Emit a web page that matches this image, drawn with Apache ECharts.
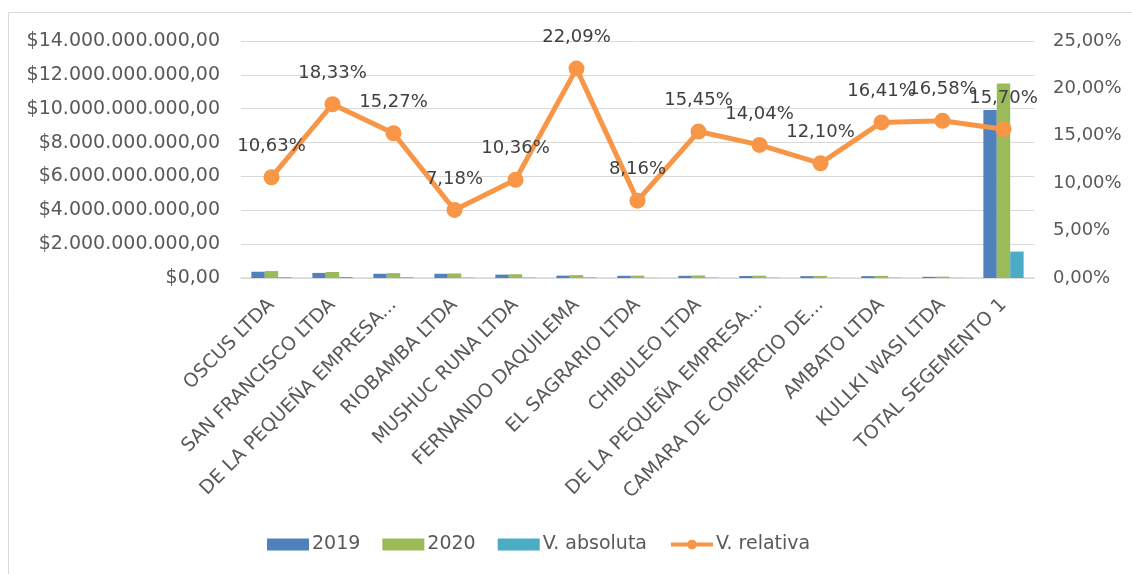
<!DOCTYPE html>
<html>
<head>
<meta charset="utf-8">
<script src="https://cdn.jsdelivr.net/npm/echarts@6/dist/echarts.min.js"></script>
<style>
  html, body { margin: 0; padding: 0; background: #fff; }
  #chart { width: 1132px; height: 574px; }
</style>
</head>
<body>
<div id="chart"></div>
<script>
// categorias (etiquetas truncadas como en el original)
var categorias = [
  'OSCUS LTDA', 'SAN FRANCISCO LTDA', 'DE LA PEQUEÑA EMPRESA...', 'RIOBAMBA LTDA',
  'MUSHUC RUNA LTDA', 'FERNANDO DAQUILEMA', 'EL SAGRARIO LTDA', 'CHIBULEO LTDA',
  'DE LA PEQUEÑA EMPRESA...', 'CAMARA DE COMERCIO DE...', 'AMBATO LTDA', 'KULLKI WASI LTDA',
  'TOTAL SEGEMENTO 1'
];
// valores en dolares
var anio2019 = [370e6, 300e6, 250e6, 250e6, 200e6, 140e6, 130e6, 130e6, 120e6, 110e6, 110e6, 70e6, 9930e6];
var anio2020 = [410e6, 355e6, 288e6, 268e6, 221e6, 171e6, 141e6, 150e6, 137e6, 123e6, 128e6, 82e6, 11490e6];
var vAbsoluta = [40e6, 55e6, 38e6, 18e6, 21e6, 31e6, 11e6, 20e6, 17e6, 13e6, 18e6, 12e6, 1560e6];
// porcentaje
var vRelativa = [10.63, 18.33, 15.27, 7.18, 10.36, 22.09, 8.16, 15.45, 14.04, 12.10, 16.41, 16.58, 15.70];

var FONT = 'DejaVu Sans';
var TXT = '#595959';

function dinero(v) {
  var s = Math.round(v).toString().replace(/\B(?=(\d{3})+(?!\d))/g, '.');
  return '$' + s + ',00';
}
function pct(v) {
  return v.toFixed(2).replace('.', ',') + '%';
}

var myChart = echarts.init(document.getElementById('chart'));
var option = {
  animation: false,
  textStyle: { fontFamily: FONT },
  graphic: [
    { type: 'line', shape: { x1: 8.5, y1: 12.5, x2: 1132, y2: 12.5 }, style: { stroke: '#d9d9d9', lineWidth: 1 } },
    { type: 'line', shape: { x1: 8.5, y1: 12.5, x2: 8.5, y2: 574 }, style: { stroke: '#d9d9d9', lineWidth: 1 } }
  ],
  grid: { left: 241, right: 98, top: 41, bottom: 296 },
  legend: {
    left: 262, top: 530,
    itemWidth: 42, itemHeight: 12, itemGap: 22,
    textStyle: { fontFamily: FONT, fontSize: 19, color: TXT, padding: [0, 0, 0, -2] },
    data: [
      { name: '2019', icon: 'rect' },
      { name: '2020', icon: 'rect' },
      { name: 'V. absoluta', icon: 'rect' },
      { name: 'V. relativa', lineStyle: { width: 4 } }
    ]
  },
  xAxis: {
    type: 'category',
    data: categorias,
    axisLine: { lineStyle: { color: '#d9d9d9', width: 1.5 } },
    axisTick: { show: false },
    axisLabel: {
      rotate: 45, interval: 0, margin: 24,
      fontFamily: FONT, fontSize: 19, color: TXT
    }
  },
  yAxis: [
    {
      type: 'value', min: 0, max: 14e9, interval: 2e9,
      axisLine: { show: false }, axisTick: { show: false },
      splitLine: { lineStyle: { color: '#d9d9d9' } },
      axisLabel: { formatter: dinero, fontFamily: FONT, fontSize: 19, color: TXT, margin: 21 }
    },
    {
      type: 'value', min: 0, max: 25, interval: 5,
      axisLine: { show: false }, axisTick: { show: false },
      splitLine: { show: false },
      axisLabel: { formatter: pct, fontFamily: FONT, fontSize: 18, color: TXT, margin: 19 }
    }
  ],
  series: [
    { name: '2019', type: 'bar', data: anio2019, itemStyle: { color: '#4f81bd' }, barGap: '0%', barCategoryGap: '34%' },
    { name: '2020', type: 'bar', data: anio2020, itemStyle: { color: '#9bbb59' } },
    { name: 'V. absoluta', type: 'bar', data: vAbsoluta, itemStyle: { color: '#4bacc6' } },
    {
      name: 'V. relativa', type: 'line', yAxisIndex: 1, data: vRelativa,
      symbol: 'circle', symbolSize: 16,
      lineStyle: { color: '#f79646', width: 5 },
      itemStyle: { color: '#f79646' },
      label: {
        show: true, position: 'top', distance: 14,
        formatter: function (p) { return pct(p.value); },
        fontFamily: FONT, fontSize: 18, color: '#404040'
      },
      z: 5
    }
  ]
};
myChart.setOption(option);
</script>
</body>
</html>
